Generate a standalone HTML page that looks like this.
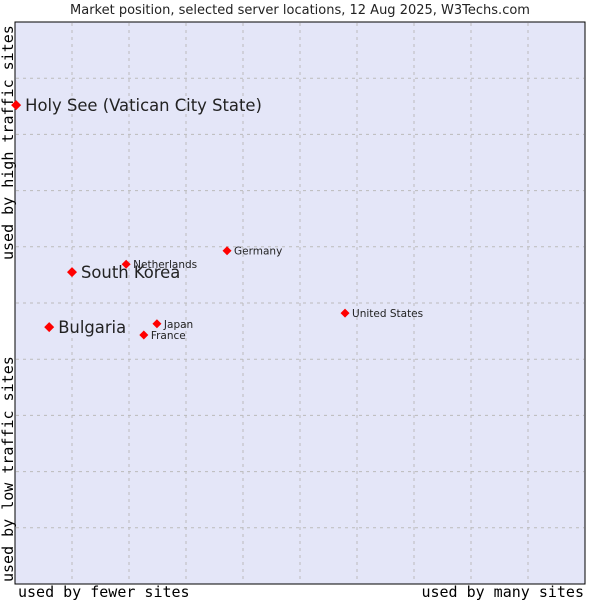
<!DOCTYPE html>
<html><head><meta charset="utf-8"><style>
body{margin:0;background:#fff}
svg{display:block}
.t{font-family:"DejaVu Sans","Liberation Sans",sans-serif;fill:#222}
.m{font-family:"DejaVu Sans Mono","Liberation Mono",monospace;fill:#000}
</style></head><body>
<svg id="c" width="600" height="600" xmlns="http://www.w3.org/2000/svg">
<text class="t" x="300" y="14" text-anchor="middle" font-size="13">Market position, selected server locations, 12 Aug 2025, W3Techs.com</text>
<rect x="15" y="22" width="570" height="562" fill="#e4e6f8" stroke="#000" stroke-width="1"/>
<g id="grid"></g>
<g id="pts"></g>
<text class="m" x="18" y="597" font-size="15">used by fewer sites</text>
<text class="m" x="584" y="597" font-size="15" text-anchor="end">used by many sites</text>
<text class="m" transform="translate(13,260) rotate(-90)" font-size="15">used by high traffic sites</text>
<text class="m" transform="translate(13,582) rotate(-90)" font-size="15">used by low traffic sites</text>
</svg>
<script>
const names=["Holy See (Vatican City State)","South Korea","Bulgaria","Netherlands","Germany","Japan","France","United States"];
const xVals=[0.2,10,6,19.5,37.2,24.9,22.6,57.9];
const yVals=[85.2,55.5,45.7,56.9,59.3,46.3,44.3,48.2];
const big=[true,true,true,false,false,false,false,false];
const gridTicks=[10,20,30,40,50,60,70,80,90];
const NS="http://www.w3.org/2000/svg";
const sx=v=>15+v*5.7, sy=v=>584-v*5.62;
const grid=document.getElementById('grid'), pts=document.getElementById('pts');
gridTicks.forEach(t=>{
  const v=document.createElementNS(NS,'line');
  
  
  v.setAttribute('x1',sx(t));v.setAttribute('x2',sx(t));v.setAttribute('y1',23);v.setAttribute('y2',583);
  v.setAttribute('stroke','#bbb');v.setAttribute('stroke-dasharray','3,4');grid.appendChild(v);
  const h=document.createElementNS(NS,'line');
  
  
  h.setAttribute('y1',sy(t));h.setAttribute('y2',sy(t));h.setAttribute('x1',16);h.setAttribute('x2',584);
  h.setAttribute('stroke','#bbb');h.setAttribute('stroke-dasharray','3,4');grid.appendChild(h);
});
names.forEach((n,i)=>{
  const x=sx(xVals[i]), y=sy(yVals[i]);
  const d=document.createElementNS(NS,'polygon');
  
  
  const r=big[i]?5:4.5;
  d.setAttribute('points',`${x},${y-r} ${x+r},${y} ${x},${y+r} ${x-r},${y}`);
  d.setAttribute('fill','#f00');pts.appendChild(d);
  const t=document.createElementNS(NS,'text');
  
  
  t.setAttribute('class','t');
  t.setAttribute('x',x+(big[i]?9:7));t.setAttribute('y',y+(big[i]?6:4));
  t.setAttribute('font-size',big[i]?16.4:10.5);
  t.setAttribute('fill','#000');
  t.textContent=n;pts.appendChild(t);
});
</script>
</body></html>
